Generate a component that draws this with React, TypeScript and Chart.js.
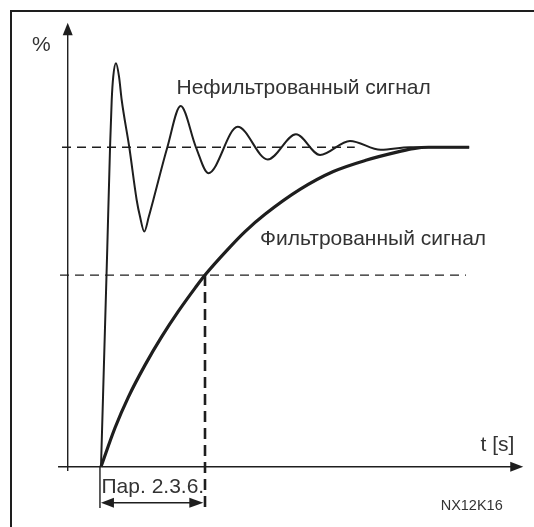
import React, { useEffect, useRef } from "react";
import { Chart, registerables } from "chart.js";

Chart.register(...registerables);

// Unfiltered signal (time units, % of final value)
const unfilteredT = [0, 0.6, 0.87, 1.03, 1.18, 1.44, 1.73, 1.99, 2.72, 3.43, 3.75, 4.16, 4.6, 5.03, 6.38, 7.66, 9.13, 10.32, 13.14, 16.03, 18.75, 21.06, 23.94, 26.9, 29.7, 35.4];
const unfilteredPct = [0, 68, 100, 114.8, 122.2, 126.3, 122.2, 114.8, 100, 83.5, 78.3, 73.6, 78.3, 83.5, 100, 112.9, 100, 91.9, 106.4, 96.2, 104.1, 97.6, 102.0, 99.2, 100, 100];

// Filtered signal
const filteredT = [0, 1.35, 2.63, 4.23, 5.84, 7.43, 9.04, 10, 12.24, 13.85, 15.77, 19.13, 22.34, 25.55, 28.75, 30.03, 31.5, 35.4];
const filteredPct = [0, 12.2, 21.8, 31.8, 40.7, 48.6, 55.9, 60.0, 68.2, 73.6, 79.0, 86.8, 92.4, 96.0, 98.7, 99.6, 100, 100];

// Reference levels and the filter time (Par. 2.3.6)
const finalLevel = 100;
const tauLevel = 60;
const tau = 10;

// Labels
const yAxisLabel = "%";
const xAxisLabel = "t [s]";
const unfilteredLabel = "Нефильтрованный сигнал";
const filteredLabel = "Фильтрованный сигнал";
const paramLabel = "Пар. 2.3.6.";
const figureCode = "NX12K16";

const INK = "#1e1e1e";
const TEXT = "#333333";
const FONT = "'Liberation Sans', Arial, sans-serif";

const toXY = (xs: number[], ys: number[]) => xs.map((x, i) => ({ x, y: ys[i] }));

const decor = {
  id: "decor",
  afterDatasetsDraw(chart: any) {
    const { ctx } = chart;
    const sx = chart.scales.x;
    const sy = chart.scales.y;
    const X = (v: number) => sx.getPixelForValue(v);
    const Y = (v: number) => sy.getPixelForValue(v);
    ctx.save();

    // frame (top and left edges of the figure box)
    ctx.strokeStyle = INK;
    ctx.lineWidth = 2;
    ctx.beginPath();
    ctx.moveTo(11, chart.height);
    ctx.lineTo(11, 11);
    ctx.lineTo(chart.width, 11);
    ctx.stroke();

    // axes
    ctx.lineWidth = 1.4;
    ctx.beginPath();
    ctx.moveTo(X(-3.2), Y(-1.35));
    ctx.lineTo(X(-3.2), Y(136));
    ctx.moveTo(X(-4.13), Y(0));
    ctx.lineTo(X(39.6), Y(0));
    ctx.stroke();

    const tri = (ax: number, ay: number, bx: number, by: number, cx: number, cy: number) => {
      ctx.beginPath();
      ctx.moveTo(ax, ay);
      ctx.lineTo(bx, by);
      ctx.lineTo(cx, cy);
      ctx.closePath();
      ctx.fill();
    };
    ctx.fillStyle = INK;
    // y arrow
    const yx = X(-3.2);
    const yt = Y(139);
    tri(yx, yt, yx - 5, yt + 12.5, yx + 5, yt + 12.5);
    // x arrow
    const xt = X(40.6);
    const xy = Y(0);
    tri(xt, xy, xt - 13, xy - 5, xt - 13, xy + 5);

    // dimension line for Par. 2.3.6
    const dy = Y(-11.3);
    const l = X(-0.1);
    const r = X(tau - 0.16);
    ctx.lineWidth = 1.4;
    ctx.beginPath();
    ctx.moveTo(l, Y(0));
    ctx.lineTo(l, Y(-12.9));
    ctx.moveTo(l + 8, dy);
    ctx.lineTo(r - 8, dy);
    ctx.stroke();
    tri(l + 1, dy, l + 14, dy - 5, l + 14, dy + 5);
    tri(r, dy, r - 14, dy - 5, r - 14, dy + 5);

    // texts
    ctx.fillStyle = TEXT;
    ctx.textBaseline = "alphabetic";
    ctx.textAlign = "left";
    ctx.font = `21px ${FONT}`;
    ctx.fillText(yAxisLabel, X(-6.63), Y(130.2));
    ctx.fillText(unfilteredLabel, X(7.26), Y(116.8));
    ctx.fillText(filteredLabel, X(15.29), Y(69.4));
    ctx.fillText(xAxisLabel, X(36.5), Y(4.9));
    ctx.fillText(paramLabel, X(0.05), Y(-8.2));
    ctx.font = `14.5px ${FONT}`;
    ctx.fillText(figureCode, X(32.66), Y(-13.6));
    ctx.restore();
  },
};

export default function App() {
  const ref = useRef<HTMLCanvasElement | null>(null);

  useEffect(() => {
    document.body.style.margin = "0";
    const canvas = ref.current;
    if (!canvas) return;
    const chart = new Chart(canvas, {
      type: "line",
      data: {
        datasets: [
          {
            label: "unfiltered",
            data: toXY(unfilteredT, unfilteredPct),
            borderColor: INK,
            borderWidth: 2,
            pointRadius: 0,
            cubicInterpolationMode: "monotone",
            fill: false,
            order: 1,
          },
          {
            label: "filtered",
            data: toXY(filteredT, filteredPct),
            borderColor: INK,
            borderWidth: 3.2,
            pointRadius: 0,
            cubicInterpolationMode: "monotone",
            fill: false,
            order: 0,
          },
          {
            label: "final level",
            data: [
              { x: -3.75, y: finalLevel },
              { x: 24.4, y: finalLevel },
            ],
            borderColor: INK,
            borderWidth: 1.3,
            borderDash: [9, 6],
            pointRadius: 0,
            order: 3,
          },
          {
            label: "tau level",
            data: [
              { x: -3.94, y: tauLevel },
              { x: 35.1, y: tauLevel },
            ],
            borderColor: INK,
            borderWidth: 1.3,
            borderDash: [9, 6],
            pointRadius: 0,
            order: 3,
          },
          {
            label: "tau",
            data: [
              { x: tau, y: tauLevel },
              { x: tau, y: -14.1 },
            ],
            borderColor: INK,
            borderWidth: 2.6,
            borderDash: [11, 6],
            pointRadius: 0,
            order: 2,
          },
        ],
      },
      options: {
        animation: false,
        responsive: false,
        devicePixelRatio: 1,
        events: [],
        layout: { padding: { left: 49, right: 1.4, top: 19.5, bottom: 2.8 } },
        plugins: { legend: { display: false }, tooltip: { enabled: false }, title: { display: false } },
        scales: {
          x: { type: "linear", min: -5, max: 41.5, display: false },
          y: { type: "linear", min: -18, max: 140, display: false },
        },
      },
      plugins: [decor],
    });
    return () => chart.destroy();
  }, []);

  return (
    <div style={{ position: "absolute", left: 0, top: 0, width: 534, height: 527, background: "#fff" }}>
      <canvas ref={ref} width={534} height={527} style={{ display: "block" }} />
    </div>
  );
}
